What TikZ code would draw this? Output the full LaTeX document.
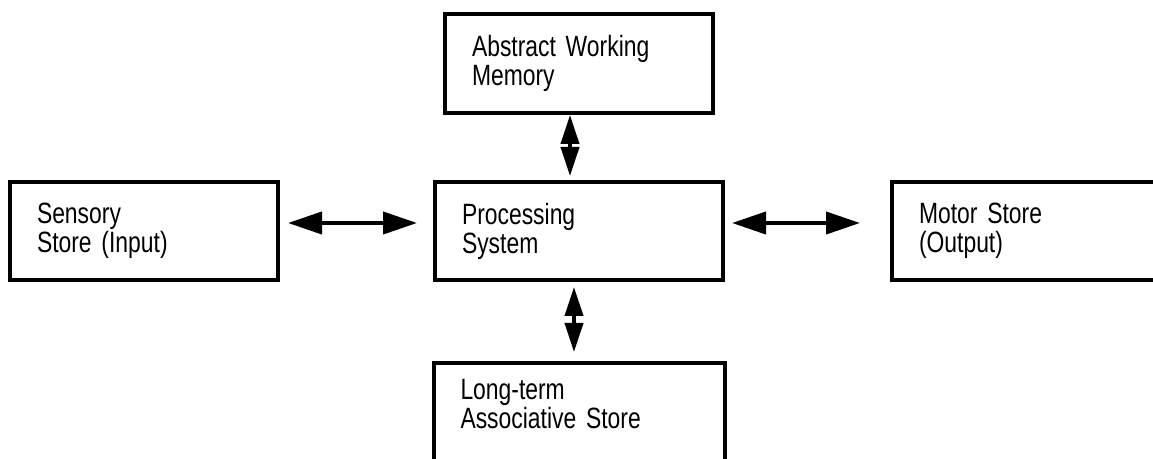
\documentclass[tikz,border=0pt]{standalone}
\usepackage{fontspec}
\setmainfont{Liberation Sans}[FakeStretch=0.78,WordSpace=0.8]
\usetikzlibrary{positioning,arrows.meta}

\begin{document}
\begin{tikzpicture}[on grid,
    store/.style={draw,rectangle,line width=0.08cm,align=left,inner xsep=0.54cm,
      minimum height=1.96cm,font=\fontsize{16.7}{16.5}\selectfont},
    hlink/.style={{Triangle[length=0.68cm,width=0.44cm]}-{Triangle[length=0.68cm,width=0.44cm]},line width=0.08cm},
    vlink/.style={{Triangle[length=0.58cm,width=0.36cm]}-{Triangle[length=0.58cm,width=0.36cm]},line width=0.08cm}]
  \useasboundingbox[fill=white] (0,0) rectangle (23.06,9.18);
  \node[store,text width=4.68cm] (proc) at (11.58,4.56) {Processing\\System};
  \node[store,text width=4.28cm] (sens) [left=8.7cm of proc] {Sensory\\Store (Input)};
  \node[store,text width=4.68cm] (motor) [right=9.14cm of proc] {Motor Store\\(Output)};
  \node[store,text width=4.28cm,minimum height=1.98cm] (awm) [above=3.35cm of proc] {Abstract Working\\Memory};
  \node[store,text width=4.74cm,text depth=0.9cm] (ltas) [below=3.62cm of proc] {Long-term\\Associative Store};
  \draw[hlink,shorten <=0.16cm,shorten >=0.32cm] ([yshift=0.16cm]sens.east) -- ([yshift=0.16cm]proc.west);
  \draw[hlink,shorten <=0.14cm,shorten >=0.6cm] ([yshift=0.16cm]proc.east) -- ([yshift=0.16cm]motor.west);
  \draw[vlink,shorten >=0.08cm] ([xshift=-0.18cm]awm.south) -- ([xshift=-0.18cm]awm.south |- proc.north);
  \draw[vlink,shorten <=0.1cm,shorten >=0.18cm] ([xshift=-0.1cm]proc.south) -- ([xshift=-0.1cm]proc.south |- ltas.north);
\end{tikzpicture}
\end{document}
